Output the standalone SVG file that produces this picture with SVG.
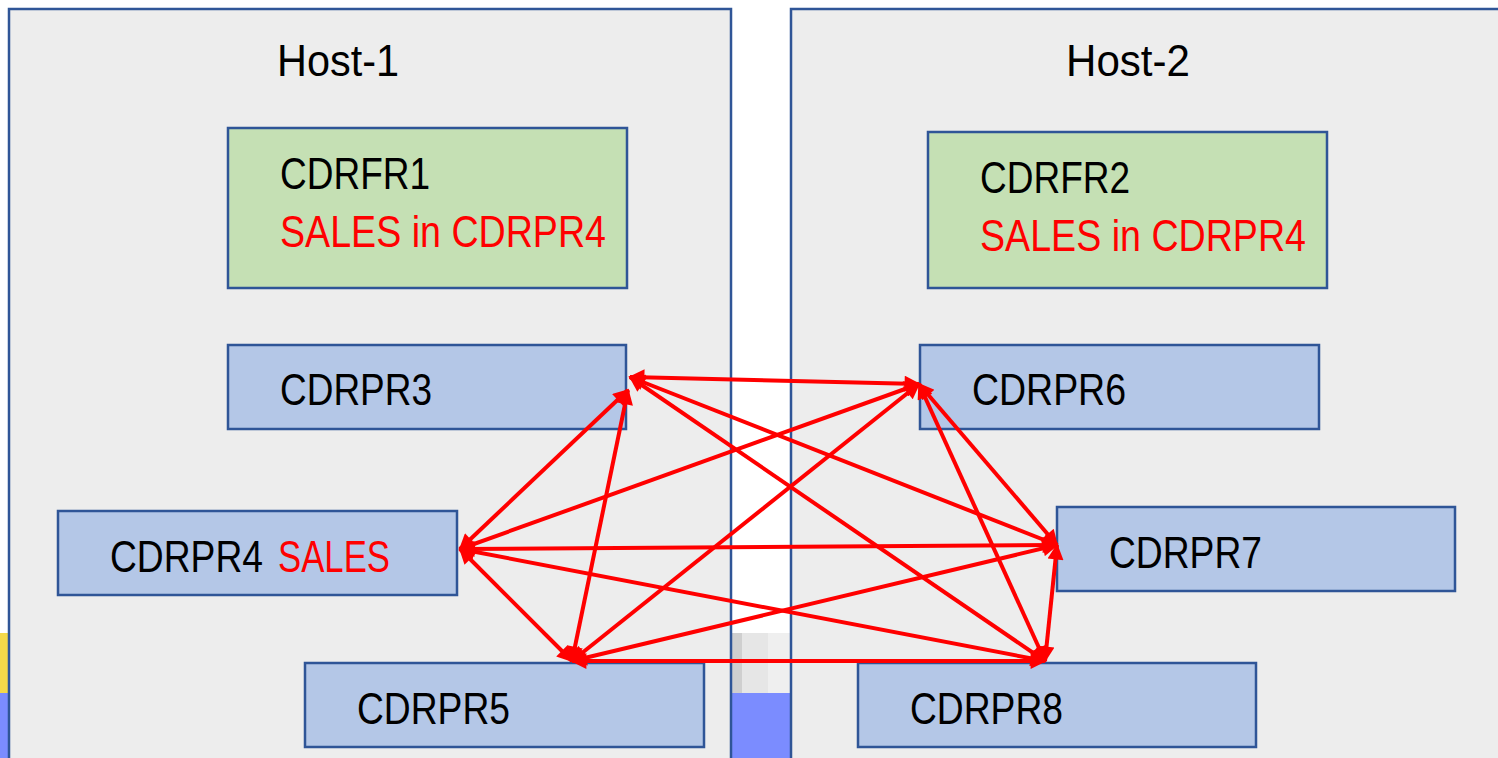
<svg xmlns="http://www.w3.org/2000/svg" width="1498" height="758" viewBox="0 0 1498 758">
  <defs>
    <style>
      .host { fill: #ededed; stroke: #2f5597; stroke-width: 2.5; }
      .fr { fill: #c5e0b4; stroke: #2f5597; stroke-width: 2.5; }
      .pr { fill: #b4c7e7; stroke: #2f5597; stroke-width: 2.5; }
      .t { font-family: "Liberation Sans", Arial, sans-serif; font-size: 44px; fill: #000; }
      .red { fill: #ff0000; }
      .link { stroke: #ff0000; stroke-width: 4; fill: none; marker-start: url(#ah); marker-end: url(#ah); }
    </style>
    <marker id="ah" viewBox="0 0 10 10" refX="9" refY="5" markerUnits="userSpaceOnUse" markerWidth="20" markerHeight="16" orient="auto-start-reverse">
      <path d="M0,0 L10,5 L0,10 Z" fill="#ff0000"/>
    </marker>
  </defs>

  <rect x="0" y="0" width="1498" height="758" fill="#ffffff"/>

  <!-- edge strips at the bottom -->
  <rect x="0" y="633" width="9" height="60" fill="#f4d94a"/>
  <rect x="0" y="693" width="9" height="65" fill="#7b8cff"/>
  <rect x="732" y="633" width="58" height="60" fill="#e6e6e6"/>
  <rect x="732" y="633" width="10" height="60" fill="#cfcfcf"/>
  <rect x="768" y="633" width="22" height="60" fill="#efefef"/>
  <rect x="732" y="693" width="58" height="65" fill="#7b8cff"/>

  <!-- hosts -->
  <g id="host-1">
    <rect class="host" x="9" y="9" width="722" height="760"/>
    <text class="t" x="277" y="76" textLength="122" lengthAdjust="spacingAndGlyphs">Host-1</text>
  </g>
  <g id="host-2">
    <rect class="host" x="791" y="9" width="720" height="760"/>
    <text class="t" x="1066" y="76" textLength="124" lengthAdjust="spacingAndGlyphs">Host-2</text>
  </g>

  <!-- nodes -->
  <g id="cdrfr1">
    <rect class="fr" x="228" y="128" width="399" height="160"/>
    <text class="t" x="280" y="189" textLength="150" lengthAdjust="spacingAndGlyphs">CDRFR1</text>
    <text class="t red" x="280" y="247" textLength="326" lengthAdjust="spacingAndGlyphs">SALES in CDRPR4</text>
  </g>
  <g id="cdrfr2">
    <rect class="fr" x="928" y="132" width="399" height="156"/>
    <text class="t" x="980" y="193" textLength="150" lengthAdjust="spacingAndGlyphs">CDRFR2</text>
    <text class="t red" x="980" y="251" textLength="326" lengthAdjust="spacingAndGlyphs">SALES in CDRPR4</text>
  </g>
  <g id="cdrpr3">
    <rect class="pr" x="228" y="345" width="398" height="84"/>
    <text class="t" x="280" y="405" textLength="152" lengthAdjust="spacingAndGlyphs">CDRPR3</text>
  </g>
  <g id="cdrpr4">
    <rect class="pr" x="58" y="511" width="399" height="84"/>
    <text class="t" x="110" y="572" textLength="153" lengthAdjust="spacingAndGlyphs">CDRPR4</text>
    <text class="t red" x="278" y="572" textLength="112" lengthAdjust="spacingAndGlyphs">SALES</text>
  </g>
  <g id="cdrpr5">
    <rect class="pr" x="305" y="663" width="399" height="84"/>
    <text class="t" x="357" y="724" textLength="153" lengthAdjust="spacingAndGlyphs">CDRPR5</text>
  </g>
  <g id="cdrpr6">
    <rect class="pr" x="920" y="345" width="399" height="84"/>
    <text class="t" x="972" y="405" textLength="154" lengthAdjust="spacingAndGlyphs">CDRPR6</text>
  </g>
  <g id="cdrpr7">
    <rect class="pr" x="1057" y="507" width="398" height="84"/>
    <text class="t" x="1109" y="568" textLength="153" lengthAdjust="spacingAndGlyphs">CDRPR7</text>
  </g>
  <g id="cdrpr8">
    <rect class="pr" x="858" y="663" width="398" height="84"/>
    <text class="t" x="910" y="724" textLength="153" lengthAdjust="spacingAndGlyphs">CDRPR8</text>
  </g>

  <!-- replication links, every pair both ways -->
  <g id="connectors">
    <line class="link" x1="630" y1="377" x2="919" y2="384"/>
    <line class="link" x1="630" y1="377" x2="1057" y2="545"/>
    <line class="link" x1="630" y1="377" x2="1045" y2="661"/>
    <line class="link" x1="628" y1="390" x2="460" y2="549"/>
    <line class="link" x1="628" y1="390" x2="572" y2="661"/>
    <line class="link" x1="460" y1="549" x2="919" y2="384"/>
    <line class="link" x1="460" y1="549" x2="1057" y2="545"/>
    <line class="link" x1="460" y1="549" x2="1045" y2="661"/>
    <line class="link" x1="460" y1="549" x2="572" y2="661"/>
    <line class="link" x1="572" y1="661" x2="919" y2="384"/>
    <line class="link" x1="572" y1="661" x2="1057" y2="545"/>
    <line class="link" x1="572" y1="661" x2="1045" y2="661"/>
    <line class="link" x1="919" y1="384" x2="1057" y2="545"/>
    <line class="link" x1="919" y1="384" x2="1045" y2="661"/>
    <line class="link" x1="1057" y1="545" x2="1045" y2="661"/>
  </g>
</svg>
